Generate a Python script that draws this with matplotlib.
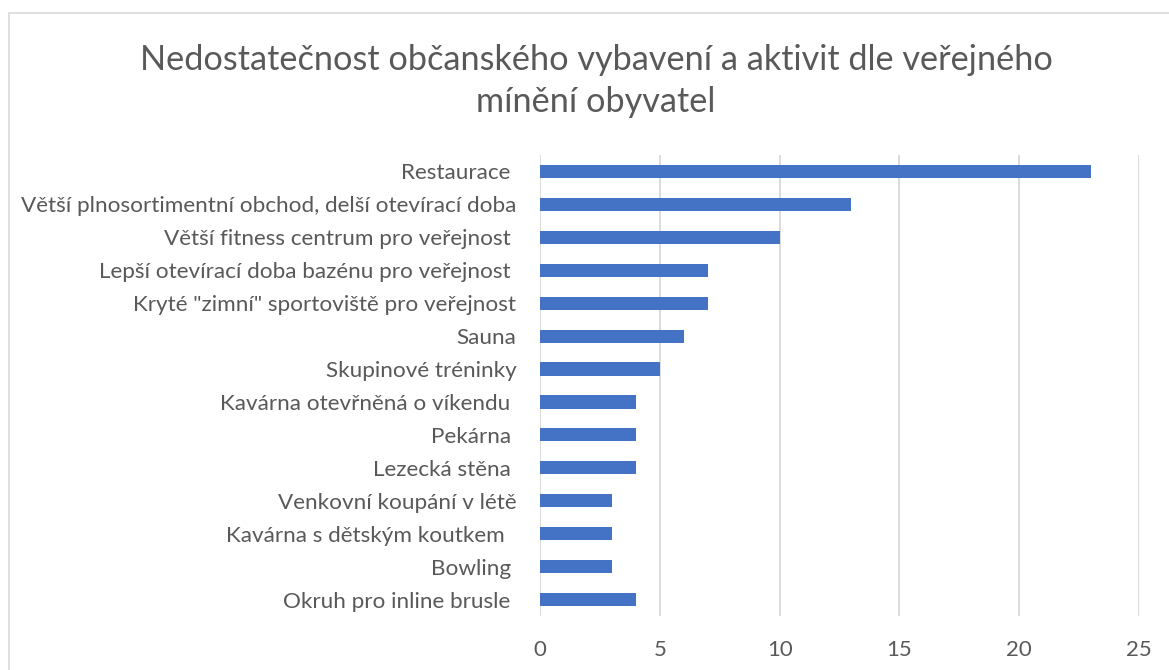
import matplotlib.pyplot as plt
from matplotlib.patches import Rectangle

plt.rcParams['font.family'] = ['Lato', 'DejaVu Sans']

title = "Nedostatečnost občanského vybavení a aktivit dle veřejného\nmínění obyvatel"

categories = [
    "Restaurace ",
    "Větší plnosortimentní obchod, delší otevírací doba",
    "Větší fitness centrum pro veřejnost ",
    "Lepší otevírací doba bazénu pro veřejnost ",
    "Kryté \"zimní\" sportoviště pro veřejnost",
    "Sauna",
    "Skupinové tréninky",
    "Kavárna otevřněná o víkendu ",
    "Pekárna ",
    "Lezecká stěna ",
    "Venkovní koupání v létě",
    "Kavárna s dětským koutkem  ",
    "Bowling ",
    "Okruh pro inline brusle ",
]
values = [23, 13, 10, 7, 7, 6, 5, 4, 4, 4, 3, 3, 3, 4]
xticks = [0, 5, 10, 15, 20, 25]

text_color = "#595959"
grid_color = "#D9D9D9"
bar_color = "#4472C4"

fig = plt.figure(figsize=(11.69, 6.70), dpi=100)
ax = fig.add_axes([540 / 1169, 54 / 670, 599 / 1169, 461 / 670])

# chart outline like the Excel chart area
fig.patches.append(Rectangle((9 / 1169, -0.1), 1.2, 1 - 13 / 670 + 0.1,
                             transform=fig.transFigure, fill=False,
                             edgecolor=grid_color, linewidth=1.2))

ypos = list(range(len(categories)))
ax.barh(ypos, values, height=0.4, color=bar_color, zorder=3)
ax.set_yticks(ypos)
ax.set_yticklabels(categories)
ax.set_ylim(len(categories) - 0.5, -0.5)
ax.set_xlim(0, 25)
ax.set_xticks(xticks)

ax.grid(axis="x", color=grid_color, linewidth=1.3, zorder=0)
for s in ax.spines.values():
    s.set_visible(False)
ax.tick_params(axis="y", length=0, pad=17, labelsize=16.2, labelcolor=text_color)
ax.tick_params(axis="x", length=0, pad=17, labelsize=16, labelcolor=text_color)

fig.text(596 / 1169, 1 - 81 / 670, title, ha="center", va="center",
         fontsize=24.7, color=text_color, linespacing=1.4)

fig.savefig("out.png", dpi=100)
